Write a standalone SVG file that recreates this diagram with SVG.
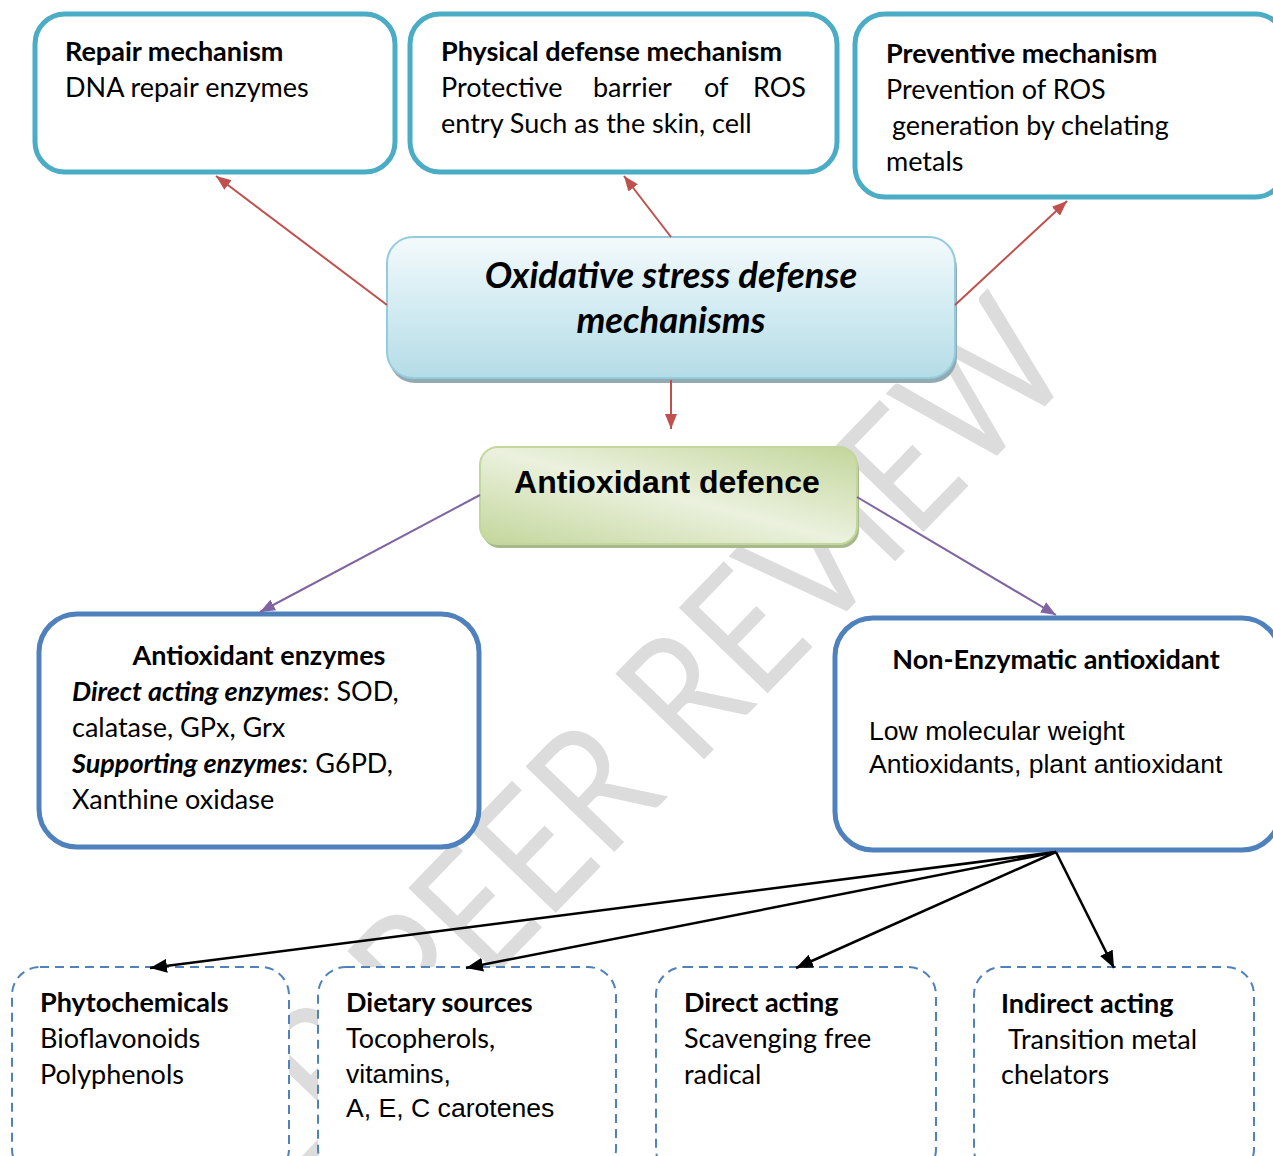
<svg xmlns="http://www.w3.org/2000/svg" width="1273" height="1156" viewBox="0 0 1273 1156">
<style>
.t{font-family:"Lato","Carlito","Liberation Sans",sans-serif;font-size:27px;fill:#000}
.b{font-weight:bold}
.bi{font-weight:bold;font-style:italic}
.a{font-family:"Liberation Sans","Arial",sans-serif;font-size:26.6px;fill:#000}
.ttl{font-family:"Lato","Carlito","Liberation Sans",sans-serif;font-size:36.5px;font-weight:bold;font-style:italic;fill:#000}
.ad{font-family:"Liberation Sans","Arial",sans-serif;font-size:32px;font-weight:bold;fill:#000}
.wm{font-family:"Lato","Liberation Sans",sans-serif;font-size:172px;font-weight:normal;fill:#dcdcdc}
.teal{fill:#fff;stroke:#4BACC6;stroke-width:5}
.blue{fill:#fff;stroke:#4F81BD;stroke-width:5}
.dash{fill:#fff;stroke:#4F81BD;stroke-width:2;stroke-dasharray:9 6}
.red{stroke:#C0504D;stroke-width:2;fill:none}
.pur{stroke:#8064A2;stroke-width:2;fill:none}
.blk{stroke:#000;stroke-width:2.5;fill:none}
</style>
<defs>
<linearGradient id="gBlue" x1="0" y1="0" x2="0" y2="1">
<stop offset="0" stop-color="#f4fafc"/>
<stop offset="0.45" stop-color="#d6edf3"/>
<stop offset="1" stop-color="#b5dce7"/>
</linearGradient>
<linearGradient id="gGreen" x1="1" y1="0" x2="0" y2="1">
<stop offset="0" stop-color="#c3d69b"/>
<stop offset="0.5" stop-color="#ebf1de"/>
<stop offset="1" stop-color="#c3d69b"/>
</linearGradient>
<marker id="mRed" markerUnits="userSpaceOnUse" markerWidth="15" markerHeight="12" refX="15" refY="6" orient="auto"><path d="M0,0 L15,6 L0,12 z" fill="#C0504D"/></marker>
<marker id="mPur" markerUnits="userSpaceOnUse" markerWidth="15" markerHeight="12" refX="15" refY="6" orient="auto"><path d="M0,0 L15,6 L0,12 z" fill="#8064A2"/></marker>
<marker id="mBlk" markerUnits="userSpaceOnUse" markerWidth="17" markerHeight="14" refX="17" refY="7" orient="auto"><path d="M0,0 L17,7 L0,14 z" fill="#000"/></marker>
</defs>
<rect width="1273" height="1156" fill="#fff"/>
<g id="watermark">
<text class="wm" x="0" y="0" transform="translate(1078 372) rotate(-46) scale(0.85 1)" text-anchor="end">UNDER PEER REVIEW</text>
</g>
<g id="repair">
<rect class="teal" x="35" y="14" width="360" height="158" rx="30"/>
<text class="t b" x="65" y="61">Repair mechanism</text>
<text class="t" x="65" y="97">DNA repair enzymes</text>
</g>
<g id="physical">
<rect class="teal" x="410" y="14" width="427" height="158" rx="30"/>
<text class="t b" x="441" y="61">Physical defense mechanism</text>
<text class="t" x="441" y="97">Protective</text>
<text class="t" x="593" y="97">barrier</text>
<text class="t" x="704" y="97">of</text>
<text class="t" x="806" y="97" text-anchor="end">ROS</text>
<text class="t" x="441" y="133">entry Such as the skin, cell</text>
</g>
<g id="preventive">
<rect class="teal" x="855" y="14" width="430" height="183" rx="30"/>
<text class="t b" x="886" y="63">Preventive mechanism</text>
<text class="t" x="886" y="99">Prevention of ROS</text>
<text class="t" x="892" y="135">generation by chelating</text>
<text class="t" x="886" y="171">metals</text>
</g>
<g id="oxidative">
<rect x="389" y="242" width="568" height="141" rx="26" fill="#93aab3"/>
<rect x="387" y="237" width="568" height="141" rx="26" fill="url(#gBlue)" stroke="#93cddd" stroke-width="2"/>
<text class="ttl" x="671" y="288" text-anchor="middle">Oxidative stress defense</text>
<text class="ttl" x="671" y="333" text-anchor="middle">mechanisms</text>
</g>
<g id="antioxidant-defence">
<rect x="482" y="451" width="377" height="97" rx="18" fill="#a7b98a"/>
<rect x="480" y="447" width="377" height="97" rx="18" fill="url(#gGreen)" stroke="#c3d69b" stroke-width="2"/>
<text class="ad" x="667" y="493" text-anchor="middle">Antioxidant defence</text>
</g>
<g id="enzymes">
<rect class="blue" x="39" y="614" width="440" height="233" rx="38"/>
<text class="t b" x="259" y="665" text-anchor="middle">Antioxidant enzymes</text>
<text class="t" x="72" y="701"><tspan class="bi">Direct acting enzymes</tspan>: SOD,</text>
<text class="t" x="72" y="737">calatase, GPx, Grx</text>
<text class="t" x="72" y="773"><tspan class="bi">Supporting enzymes</tspan>: G6PD,</text>
<text class="t" x="72" y="809">Xanthine oxidase</text>
</g>
<g id="non-enzymatic">
<rect class="blue" x="835" y="618" width="445" height="232" rx="38"/>
<text class="t b" x="1056" y="669" text-anchor="middle">Non-Enzymatic antioxidant</text>
<text class="a" x="869" y="740">Low molecular weight</text>
<text class="a" x="869" y="773">Antioxidants, plant antioxidant</text>
</g>
<g id="phytochemicals">
<rect class="dash" x="12" y="967" width="277" height="210" rx="28"/>
<text class="t b" x="40" y="1012">Phytochemicals</text>
<text class="t" x="40" y="1048">Bioflavonoids</text>
<text class="t" x="40" y="1084">Polyphenols</text>
</g>
<g id="dietary">
<rect class="dash" x="318" y="967" width="298" height="210" rx="28"/>
<text class="t b" x="346" y="1012">Dietary sources</text>
<text class="t" x="346" y="1048">Tocopherols,</text>
<text class="a" x="346" y="1083">vitamins,</text>
<text class="a" x="346" y="1117">A, E, C carotenes</text>
</g>
<g id="direct">
<rect class="dash" x="656" y="967" width="280" height="210" rx="28"/>
<text class="t b" x="684" y="1012">Direct acting</text>
<text class="t" x="684" y="1048">Scavenging free</text>
<text class="t" x="684" y="1084">radical</text>
</g>
<g id="indirect">
<rect class="dash" x="974" y="967" width="280" height="210" rx="28"/>
<text class="t b" x="1001" y="1013">Indirect acting</text>
<text class="t" x="1008" y="1049">Transition metal</text>
<text class="t" x="1001" y="1084">chelators</text>
</g>
<g id="connectors">
<line class="red" x1="387" y1="305" x2="216" y2="176" marker-end="url(#mRed)"/>
<line class="red" x1="671" y1="237" x2="624" y2="176" marker-end="url(#mRed)"/>
<line class="red" x1="955" y1="305" x2="1067" y2="201" marker-end="url(#mRed)"/>
<line class="red" x1="671" y1="380" x2="671" y2="429" marker-end="url(#mRed)"/>
<line class="pur" x1="480" y1="495" x2="260" y2="612" marker-end="url(#mPur)"/>
<line class="pur" x1="857" y1="497" x2="1056" y2="615" marker-end="url(#mPur)"/>
<line class="blk" x1="1056" y1="852" x2="150" y2="968" marker-end="url(#mBlk)"/>
<line class="blk" x1="1056" y1="852" x2="466" y2="968" marker-end="url(#mBlk)"/>
<line class="blk" x1="1056" y1="852" x2="796" y2="968" marker-end="url(#mBlk)"/>
<line class="blk" x1="1056" y1="852" x2="1114" y2="968" marker-end="url(#mBlk)"/>
</g>
</svg>
